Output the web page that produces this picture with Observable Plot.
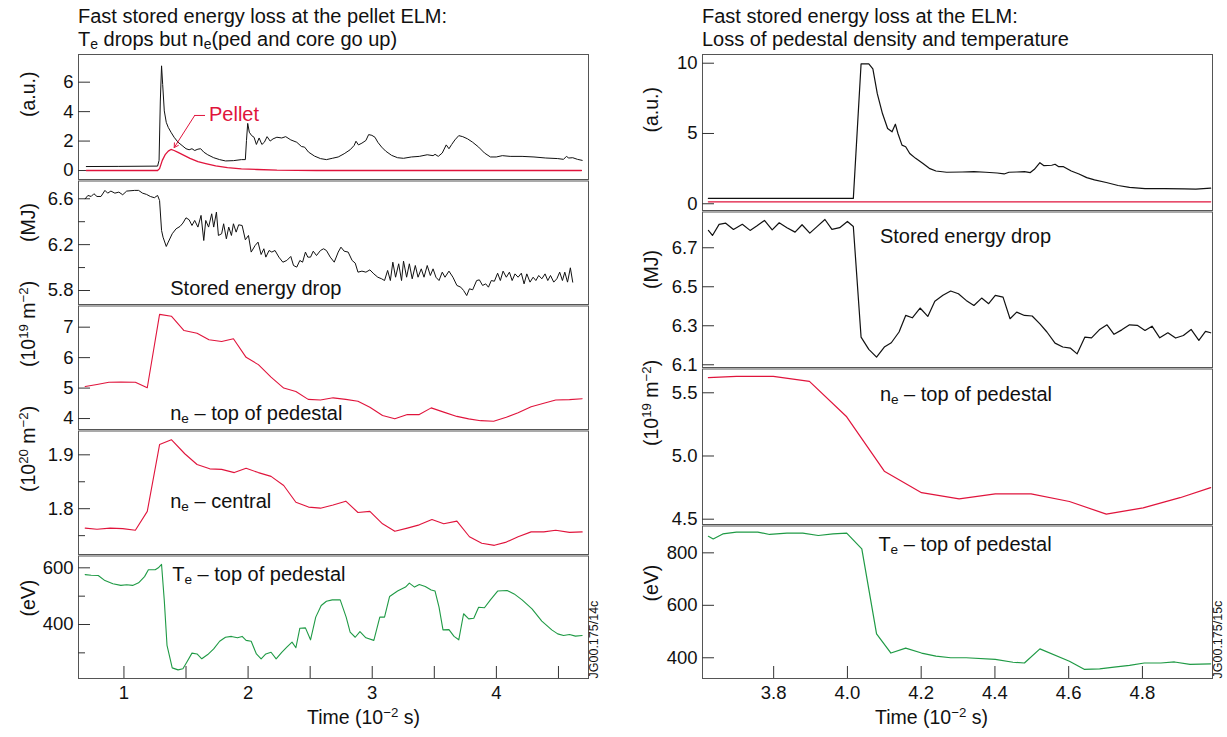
<!DOCTYPE html>
<html><head><meta charset="utf-8">
<script src="https://cdn.jsdelivr.net/npm/d3@7"></script>
<script src="https://cdn.jsdelivr.net/npm/@observablehq/plot@0.6"></script>
<style>
body{margin:0;background:#fff;}
#root{position:relative;width:1227px;height:737px;font-family:"Liberation Sans",Arial,Helvetica,sans-serif;color:#111;overflow:hidden;}
.title{position:absolute;font-size:20px;line-height:22.5px;white-space:nowrap;}
.title sub{font-size:70%;vertical-align:-0.2em;line-height:0;}
.panel{position:absolute;}
.panel svg{overflow:visible;}
</style></head><body><div id="root"></div>
<script>
// ---------- DATA ----------
// Left column: time axis (10^-2 s)
const leftXTicks = [1, 1.5, 2, 2.5, 3, 3.5, 4, 4.5];
const leftXLabels = [1, 2, 3, 4];
// Panel 1: D-alpha (a.u.) black, pellet red
const leftAuBlack = [[0.697,0.27],[0.959,0.28],[1.271,0.3],[1.283,0.69],[1.293,4.72],[1.303,7.11],[1.312,5.84],[1.325,4.05],[1.341,3.27],[1.357,2.93],[1.379,2.6],[1.404,2.26],[1.436,1.92],[1.468,1.7],[1.5,1.48],[1.525,1.41],[1.548,1.48],[1.57,1.36],[1.596,1.45],[1.618,1.48],[1.643,1.25],[1.675,1.07],[1.723,0.87],[1.771,0.74],[1.818,0.65],[1.882,0.67],[1.946,0.74],[1.978,0.74],[1.987,2.04],[1.997,3.2],[2.01,2.6],[2.029,2.37],[2.048,2.26],[2.067,1.77],[2.089,2.21],[2.111,1.77],[2.131,1.92],[2.153,2.3],[2.178,2.0],[2.201,2.15],[2.232,2.26],[2.271,2.21],[2.303,2.3],[2.344,2.08],[2.392,1.92],[2.43,1.63],[2.455,1.59],[2.487,1.25],[2.535,0.98],[2.583,0.81],[2.631,0.74],[2.678,0.83],[2.726,0.92],[2.774,1.14],[2.822,1.41],[2.854,1.7],[2.869,1.99],[2.889,1.74],[2.917,1.86],[2.949,2.04],[2.971,2.44],[2.997,2.39],[3.022,2.26],[3.045,1.92],[3.076,1.59],[3.108,1.32],[3.156,1.03],[3.204,0.87],[3.252,0.83],[3.315,0.92],[3.379,0.96],[3.443,1.07],[3.49,1.01],[3.506,1.1],[3.532,0.96],[3.564,1.19],[3.596,1.74],[3.618,1.48],[3.64,1.77],[3.666,2.08],[3.697,2.37],[3.729,2.3],[3.768,2.15],[3.809,1.92],[3.857,1.59],[3.904,1.19],[3.952,0.92],[3.999,0.92],[4.048,1.01],[4.111,0.96],[4.207,0.96],[4.303,0.92],[4.398,0.85],[4.494,0.81],[4.541,0.76],[4.564,0.96],[4.583,0.85],[4.615,0.87],[4.653,0.76],[4.691,0.69]];
const leftAuPellet = [[0.697,0],[1.271,0],[1.287,0.13],[1.309,0.69],[1.334,1.1],[1.357,1.32],[1.379,1.43],[1.404,1.36],[1.436,1.23],[1.484,1.03],[1.532,0.83],[1.596,0.6],[1.659,0.47],[1.739,0.31],[1.834,0.2],[1.946,0.11],[2.073,0.07],[2.232,0.02],[2.551,0],[4.685,0]];
const pelletLabel = [{t: 1.685, v: 3.78, text: "Pellet"}];
const pelletLeader = [[1.65, 3.74], [1.57, 3.74]];
const pelletArrow = [{t1: 1.57, v1: 3.74, t2: 1.405, v2: 1.56}];
// Panel 2: stored energy (MJ)
const leftWdia = [[0.688,6.6],[0.71,6.629],[0.736,6.62],[0.758,6.644],[0.783,6.62],[0.815,6.62],[0.847,6.673],[0.869,6.649],[0.895,6.667],[0.927,6.649],[0.959,6.658],[0.99,6.635],[1.022,6.667],[1.086,6.673],[1.118,6.673],[1.15,6.649],[1.182,6.638],[1.213,6.62],[1.245,6.609],[1.271,6.629],[1.287,6.585],[1.303,6.324],[1.315,6.265],[1.341,6.184],[1.357,6.222],[1.389,6.295],[1.42,6.338],[1.452,6.359],[1.475,6.388],[1.5,6.434],[1.525,6.417],[1.548,6.367],[1.57,6.411],[1.596,6.353],[1.621,6.455],[1.643,6.236],[1.659,6.411],[1.682,6.353],[1.707,6.469],[1.723,6.353],[1.745,6.484],[1.761,6.28],[1.787,6.295],[1.803,6.382],[1.825,6.251],[1.844,6.353],[1.866,6.28],[1.882,6.382],[1.904,6.309],[1.924,6.373],[1.952,6.367],[1.978,6.242],[2.003,6.28],[2.025,6.135],[2.057,6.193],[2.08,6.222],[2.105,6.114],[2.127,6.164],[2.143,6.091],[2.169,6.149],[2.191,6.135],[2.217,6.149],[2.248,6.091],[2.28,6.047],[2.312,6.062],[2.344,6.097],[2.366,6.018],[2.392,6.004],[2.417,6.062],[2.439,6.047],[2.462,6.135],[2.481,6.091],[2.503,6.091],[2.525,6.143],[2.551,6.105],[2.583,6.149],[2.608,6.164],[2.631,6.149],[2.662,6.091],[2.694,6.047],[2.726,6.135],[2.748,6.178],[2.774,6.143],[2.806,6.135],[2.838,6.062],[2.863,6.039],[2.885,5.96],[2.917,5.969],[2.949,5.96],[2.981,5.98],[3.013,5.945],[3.045,5.916],[3.076,5.902],[3.099,5.887],[3.124,5.975],[3.146,5.887],[3.166,6.047],[3.188,5.916],[3.213,6.033],[3.236,5.887],[3.252,6.056],[3.277,5.916],[3.299,6.033],[3.322,5.902],[3.347,6.018],[3.369,5.916],[3.395,5.989],[3.417,5.916],[3.443,6.018],[3.468,5.931],[3.49,5.989],[3.513,5.916],[3.538,5.887],[3.564,5.96],[3.586,5.916],[3.618,5.969],[3.65,5.916],[3.682,5.844],[3.713,5.829],[3.736,5.8],[3.761,5.756],[3.783,5.815],[3.809,5.806],[3.841,5.887],[3.863,5.893],[3.889,5.844],[3.914,5.858],[3.936,5.829],[3.959,5.887],[3.984,5.881],[4.01,5.951],[4.032,5.887],[4.054,5.969],[4.08,5.916],[4.105,5.96],[4.127,5.887],[4.15,5.945],[4.175,5.916],[4.201,5.951],[4.223,5.858],[4.245,5.945],[4.271,5.873],[4.296,5.916],[4.318,5.887],[4.341,5.931],[4.366,5.902],[4.392,5.945],[4.414,5.887],[4.436,5.931],[4.462,5.873],[4.487,5.902],[4.51,5.96],[4.532,5.887],[4.551,5.96],[4.573,5.873],[4.596,5.998],[4.615,5.873]];
// Panel 3: ne top of pedestal (10^19 m^-2)
const leftNePed = [[0.688,5.05],[0.783,5.12],[0.879,5.19],[0.975,5.2],[1.092,5.19],[1.188,5.01],[1.287,7.42],[1.382,7.36],[1.484,6.89],[1.589,6.8],[1.685,6.59],[1.787,6.53],[1.882,6.62],[1.984,6.01],[2.083,5.77],[2.185,5.36],[2.287,5.0],[2.385,4.89],[2.484,4.63],[2.583,4.61],[2.685,4.68],[2.787,4.63],[2.885,4.57],[2.981,4.37],[3.083,4.1],[3.182,3.99],[3.283,4.13],[3.379,4.13],[3.475,4.35],[3.576,4.21],[3.682,4.07],[3.777,3.99],[3.873,3.93],[3.978,3.91],[4.08,4.04],[4.175,4.19],[4.28,4.39],[4.382,4.5],[4.478,4.61],[4.589,4.62],[4.691,4.65]];
// Panel 4: ne central (10^20 m^-2)
const leftNeCore = [[0.688,1.764],[0.783,1.762],[0.889,1.764],[0.99,1.763],[1.092,1.76],[1.188,1.795],[1.287,1.919],[1.382,1.928],[1.49,1.902],[1.589,1.882],[1.691,1.874],[1.787,1.873],[1.889,1.867],[1.984,1.875],[2.083,1.867],[2.185,1.86],[2.287,1.843],[2.385,1.812],[2.487,1.803],[2.583,1.801],[2.685,1.807],[2.787,1.814],[2.885,1.793],[2.981,1.795],[3.083,1.772],[3.182,1.758],[3.283,1.764],[3.379,1.77],[3.481,1.78],[3.576,1.772],[3.682,1.777],[3.783,1.748],[3.882,1.736],[3.984,1.732],[4.08,1.738],[4.175,1.748],[4.28,1.757],[4.382,1.757],[4.478,1.76],[4.589,1.756],[4.691,1.757]];
// Panel 5: Te top of pedestal (eV)
const leftTePed = [[0.688,576],[0.736,574],[0.793,573],[0.847,555],[0.911,544],[0.975,538],[1.022,540],[1.07,538],[1.118,547],[1.166,569],[1.197,593],[1.252,593],[1.277,600],[1.303,612],[1.325,485],[1.347,326],[1.389,247],[1.436,240],[1.475,244],[1.506,267],[1.548,299],[1.589,296],[1.627,279],[1.675,294],[1.723,314],[1.771,341],[1.818,355],[1.866,358],[1.914,353],[1.952,358],[1.984,344],[2.025,341],[2.067,296],[2.105,279],[2.143,296],[2.185,302],[2.226,279],[2.271,302],[2.312,320],[2.354,338],[2.385,318],[2.417,387],[2.462,388],[2.503,346],[2.545,426],[2.589,467],[2.631,482],[2.678,487],[2.742,487],[2.79,426],[2.822,373],[2.863,355],[2.901,375],[2.949,353],[3.013,344],[3.061,426],[3.099,426],[3.14,499],[3.204,518],[3.268,532],[3.299,546],[3.341,532],[3.379,541],[3.427,534],[3.475,522],[3.506,518],[3.538,461],[3.57,381],[3.618,382],[3.659,358],[3.697,346],[3.736,438],[3.777,420],[3.818,422],[3.857,461],[3.904,459],[3.952,487],[4.01,518],[4.086,520],[4.143,508],[4.207,487],[4.287,455],[4.366,412],[4.446,381],[4.494,367],[4.541,361],[4.589,365],[4.637,359],[4.691,361]];

// Right column
const rightXTicks = [3.8, 4.0, 4.2, 4.4, 4.6, 4.8];
const rightAuBlack = [[3.623,0.38],[4.016,0.38],[4.021,2.64],[4.037,9.95],[4.058,9.95],[4.069,9.6],[4.081,7.83],[4.095,6.42],[4.109,5.35],[4.121,5.12],[4.13,5.66],[4.137,5.0],[4.148,4.17],[4.158,4.06],[4.169,3.58],[4.185,3.23],[4.204,2.88],[4.222,2.52],[4.24,2.33],[4.269,2.24],[4.311,2.26],[4.343,2.29],[4.375,2.24],[4.406,2.19],[4.425,2.12],[4.438,2.24],[4.459,2.26],[4.48,2.29],[4.496,2.22],[4.507,2.45],[4.522,2.92],[4.533,2.71],[4.554,2.74],[4.563,2.81],[4.573,2.64],[4.586,2.64],[4.607,2.33],[4.628,2.12],[4.649,1.86],[4.67,1.7],[4.702,1.51],[4.734,1.3],[4.765,1.16],[4.807,1.08],[4.86,1.08],[4.913,1.06],[4.945,1.04],[4.985,1.11]];
const rightAuRed = [[3.623,0.14],[4.985,0.14]];
const rightWdia = [[3.623,6.789],[3.634,6.763],[3.652,6.82],[3.67,6.826],[3.691,6.794],[3.715,6.82],[3.736,6.789],[3.754,6.811],[3.775,6.84],[3.796,6.792],[3.815,6.828],[3.836,6.803],[3.858,6.78],[3.877,6.818],[3.898,6.775],[3.919,6.811],[3.939,6.845],[3.958,6.794],[3.979,6.803],[4.0,6.835],[4.016,6.809],[4.037,6.242],[4.058,6.179],[4.079,6.139],[4.1,6.191],[4.119,6.213],[4.14,6.268],[4.158,6.353],[4.176,6.341],[4.197,6.391],[4.218,6.348],[4.237,6.426],[4.259,6.456],[4.28,6.478],[4.301,6.464],[4.322,6.43],[4.343,6.404],[4.364,6.442],[4.383,6.413],[4.401,6.456],[4.422,6.447],[4.441,6.336],[4.459,6.37],[4.48,6.353],[4.501,6.35],[4.522,6.31],[4.541,6.268],[4.563,6.211],[4.584,6.191],[4.605,6.185],[4.623,6.156],[4.644,6.242],[4.662,6.238],[4.683,6.279],[4.704,6.305],[4.723,6.256],[4.744,6.279],[4.765,6.305],[4.786,6.302],[4.807,6.276],[4.826,6.298],[4.847,6.238],[4.869,6.264],[4.89,6.237],[4.911,6.25],[4.932,6.281],[4.953,6.225],[4.971,6.271],[4.985,6.264]];
const rightNePed = [[3.623,5.62],[3.699,5.63],[3.799,5.63],[3.897,5.59],[3.998,5.31],[4.1,4.88],[4.201,4.71],[4.303,4.66],[4.401,4.7],[4.498,4.7],[4.602,4.64],[4.702,4.54],[4.802,4.59],[4.902,4.67],[4.985,4.75]];
const rightTePed = [[3.623,863],[3.636,853],[3.662,872],[3.699,879],[3.757,879],[3.789,870],[3.836,875],[3.879,875],[3.921,866],[3.961,872],[3.998,875],[4.039,815],[4.079,491],[4.118,418],[4.158,437],[4.201,418],[4.24,406],[4.28,400],[4.322,400],[4.401,394],[4.449,383],[4.48,380],[4.522,434],[4.602,387],[4.642,356],[4.684,358],[4.723,364],[4.765,371],[4.805,380],[4.85,380],[4.887,384],[4.929,375],[4.985,377]];

// Panel annotations
const leftNotes = [
  {t: 1.373, v: 5.821, text: "Stored energy drop"},
  {t: 1.373, v: 4.168, text: "n_{e} – top of pedestal"},
  {t: 1.373, v: 1.813, text: "n_{e} – central"},
  {t: 1.389, v: 575, text: "T_{e} – top of pedestal"}
];
const rightNotes = [
  {t: 4.088, v: 6.758, text: "Stored energy drop"},
  {t: 4.088, v: 5.484, text: "n_{e} – top of pedestal"},
  {t: 4.084, v: 830, text: "T_{e} – top of pedestal"}
];

// ---------- RENDER ----------
const FONT = '"Liberation Sans", Arial, Helvetica, sans-serif';
const RED = "#e0143c", GREEN = "#1f9a45", BLACK = "#111";
const root = document.getElementById("root");
const NS = "http://www.w3.org/2000/svg";

function richify(svg) {
  svg.querySelectorAll("text").forEach(t => {
    const nodes = t.querySelectorAll("tspan").length ? [...t.querySelectorAll("tspan")] : [t];
    nodes.forEach(n => {
      const s = n.textContent;
      if (!/[_^]\{/.test(s)) return;
      n.textContent = "";
      const re = /([_^])\{([^}]*)\}/g;
      let last = 0, m;
      const add = (txt, kind) => {
        const sp = document.createElementNS(NS, "tspan");
        sp.textContent = txt;
        if (kind) { sp.setAttribute("baseline-shift", kind === "^" ? "7" : "-3"); sp.setAttribute("font-size", "68%"); }
        n.appendChild(sp);
      };
      while ((m = re.exec(s))) { if (m.index > last) add(s.slice(last, m.index)); add(m[2], m[1]); last = re.lastIndex; }
      if (last < s.length) add(s.slice(last));
    });
  });
}

function panel(col, cfg) {
  const H = cfg.h;
  const fw = col.width - col.ml - col.mr;
  const mb = cfg.bottom ? 70 : 0;
  const marks = [
    Plot.frame({stroke: "#555", strokeWidth: 1, insetTop: cfg.first ? 0 : 1.5}),
    Plot.tickY(cfg.yTicks.filter(v => cfg.yLabels.includes(v)), {y: d => d, stroke: "#333", insetRight: fw - 12}),
    Plot.tickY(cfg.yTicks.filter(v => !cfg.yLabels.includes(v)), {y: d => d, stroke: "#333", insetRight: fw - 7}),
    Plot.axisY({ticks: cfg.yLabels, tickSize: 0, tickPadding: 5, tickFormat: cfg.yFmt, fontSize: 18.5, label: null}),
    ...cfg.lines.map(l => Plot.line(l.data, {x: d => d[0], y: d => d[1], stroke: l.color, strokeWidth: l.w || 1.1})),
    Plot.text([cfg.ylabel], {text: d => d, frameAnchor: "left", dx: col.ylabelDx, rotate: -90, fontSize: 19.5}),
    ...(cfg.notes || []).map(n => Plot.text([n], {x: "t", y: "v", text: "text", textAnchor: "start", fontSize: 20})),
    ...(cfg.extra || [])
  ];
  if (cfg.bottom) {
    marks.push(
      Plot.tickX(col.xTicks, {x: d => d, stroke: "#333", insetTop: H - 12}),
      Plot.axisX({ticks: col.xLabels, tickSize: 0, tickPadding: 7, tickFormat: col.xFmt, fontSize: 18.5, label: null}),
      Plot.text(["Time (10^{−2} s)"], {text: d => d, frameAnchor: "bottom", dx: col.timeDx, dy: 45, fontSize: 19.5}),
      Plot.text([col.jg], {text: d => d, frameAnchor: "bottom-right", rotate: -90, textAnchor: "start", dx: 9.5, fontSize: 12.5})
    );
  }
  const svg = Plot.plot({
    width: col.width, height: H + mb,
    marginLeft: col.ml, marginRight: col.mr, marginTop: 0, marginBottom: mb,
    x: cfg.bottom ? {domain: col.xDomain} : {domain: col.xDomain, axis: null},
    y: {domain: cfg.yDomain},
    style: {fontFamily: FONT, fontSize: "18px", overflow: "visible", background: "transparent", color: "#111"},
    marks
  });
  richify(svg);
  const div = document.createElement("div");
  div.className = "panel";
  div.style.left = col.x + "px";
  div.style.top = cfg.top + "px";
  div.style.width = col.width + "px";
  div.appendChild(svg);
  root.appendChild(div);
}

const LEFT = {x: 0, width: 600, ml: 78, mr: 12, xDomain: [0.634, 4.742], xTicks: leftXTicks, xLabels: leftXLabels, xFmt: d3.format("d"), ylabelDx: -50, timeDx: 30, jg: "JG00.175/14c"};
const RIGHT = {x: 610, width: 617, ml: 92, mr: 15, xDomain: [3.607, 4.99], xTicks: rightXTicks, xLabels: rightXTicks, xFmt: d3.format(".1f"), ylabelDx: -51, timeDx: -26, jg: "JG00.175/15c"};

// titles
function title(x, html1, html2) {
  const d = document.createElement("div");
  d.className = "title";
  d.style.left = x + "px"; d.style.top = "5px";
  d.innerHTML = html1 + "<br>" + html2;
  root.appendChild(d);
}
title(78, "Fast stored energy loss at the pellet ELM:", "T<sub>e</sub> drops but n<sub>e</sub>(ped and core go up)");
title(702, "Fast stored energy loss at the ELM:", "Loss of pedestal density and temperature");

// left column
panel(LEFT, {first: true, top: 54, h: 125, yDomain: [-0.61, 7.88], yTicks: [0, 2, 4, 6], yLabels: [0, 2, 4, 6], yFmt: d3.format("d"),
  lines: [{data: leftAuPellet, color: RED, w: 1.3}, {data: leftAuBlack, color: BLACK, w: 1}], ylabel: "(a.u.)",
  extra: [
    Plot.line(pelletLeader, {x: d => d[0], y: d => d[1], stroke: RED, strokeWidth: 1}),
    Plot.arrow(pelletArrow, {x1: "t1", y1: "v1", x2: "t2", y2: "v2", stroke: RED, strokeWidth: 1, headLength: 7}),
    Plot.text(pelletLabel, {x: "t", y: "v", text: "text", textAnchor: "start", fill: RED, fontSize: 20})
  ]});
panel(LEFT, {top: 179, h: 125, yDomain: [5.678, 6.768], yTicks: [5.8, 6.0, 6.2, 6.4, 6.6], yLabels: [5.8, 6.2, 6.6], yFmt: d3.format(".1f"),
  lines: [{data: leftWdia, color: BLACK, w: 1}], ylabel: "(MJ)", notes: [leftNotes[0]]});
panel(LEFT, {top: 304, h: 125, yDomain: [3.64, 7.745], yTicks: [4, 5, 6, 7], yLabels: [4, 5, 6, 7], yFmt: d3.format("d"),
  lines: [{data: leftNePed, color: RED}], ylabel: "(10^{19} m^{−2})", notes: [leftNotes[1]]});
panel(LEFT, {top: 429, h: 125, yDomain: [1.715, 1.947], yTicks: [1.75, 1.8, 1.85, 1.9], yLabels: [1.8, 1.9], yFmt: d3.format(".1f"),
  lines: [{data: leftNeCore, color: RED}], ylabel: "(10^{20} m^{−2})", notes: [leftNotes[2]]});
panel(LEFT, {bottom: true, top: 554, h: 124, yDomain: [209.5, 647], yTicks: [300, 400, 500, 600], yLabels: [400, 600], yFmt: d3.format("d"),
  lines: [{data: leftTePed, color: GREEN}], ylabel: "(eV)", notes: [leftNotes[3]]});

// right column
panel(RIGHT, {first: true, top: 54, h: 156, yDomain: [-0.48, 10.62], yTicks: [0, 5, 10], yLabels: [0, 5, 10], yFmt: d3.format("d"),
  lines: [{data: rightAuRed, color: RED, w: 1.3}, {data: rightAuBlack, color: BLACK, w: 1.2}], ylabel: "(a.u.)"});
panel(RIGHT, {top: 210, h: 157, yDomain: [6.086, 6.891], yTicks: [6.1, 6.3, 6.5, 6.7], yLabels: [6.1, 6.3, 6.5, 6.7], yFmt: d3.format(".1f"),
  lines: [{data: rightWdia, color: BLACK, w: 1.2}], ylabel: "(MJ)", notes: [rightNotes[0]]});
panel(RIGHT, {top: 367, h: 157, yDomain: [4.458, 5.70], yTicks: [4.5, 5.0, 5.5], yLabels: [4.5, 5.0, 5.5], yFmt: d3.format(".1f"),
  lines: [{data: rightNePed, color: RED, w: 1.2}], ylabel: "(10^{19} m^{−2})", notes: [rightNotes[1]]});
panel(RIGHT, {bottom: true, top: 524, h: 154, yDomain: [321, 908], yTicks: [400, 600, 800], yLabels: [400, 600, 800], yFmt: d3.format("d"),
  lines: [{data: rightTePed, color: GREEN, w: 1.2}], ylabel: "(eV)", notes: [rightNotes[2]]});
</script></body></html>
